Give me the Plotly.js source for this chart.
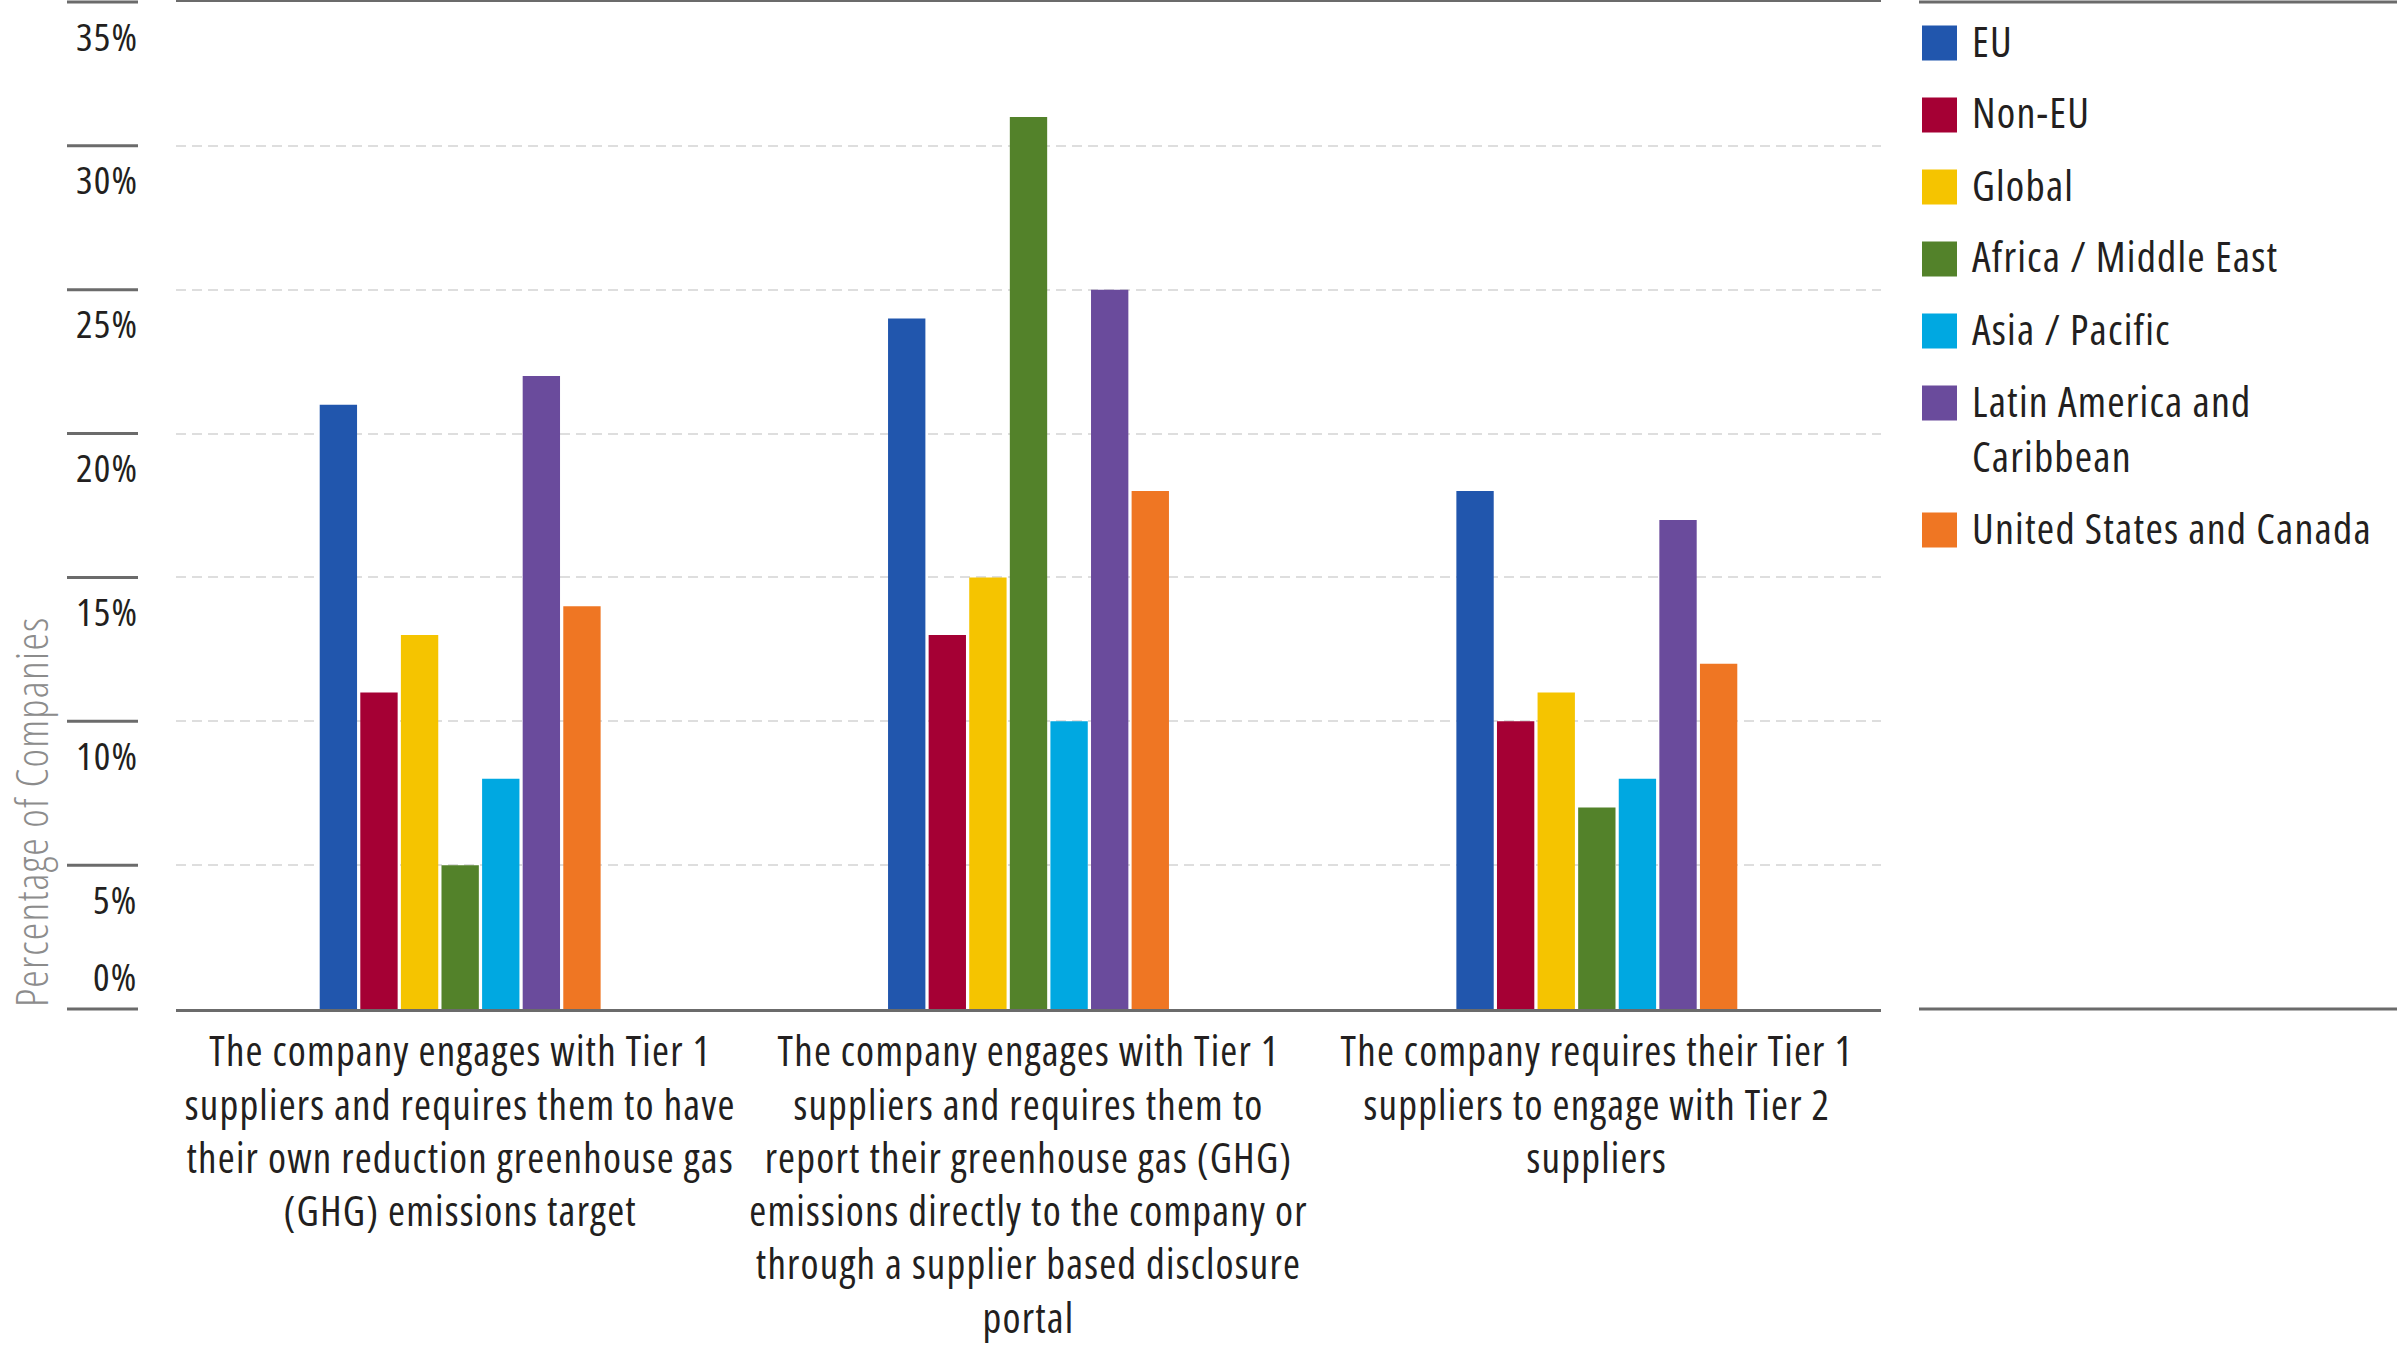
<!DOCTYPE html>
<html>
<head>
<meta charset="utf-8">
<title>Supplier engagement requirements by region</title>
<script src="https://cdn.plot.ly/plotly-3.0.1.min.js"></script>
<style>
  html, body { margin: 0; padding: 0; background: #ffffff; }
  #chart { width: 2397px; height: 1347px; }
  /* condensed cut of Open Sans, opened up a little; global so Plotly's text tester measures the same */
  svg text { font-stretch: 80%; letter-spacing: 1.2px; }
</style>
</head>
<body>
<div id="chart"></div>
<script>
// Engagement requirement (one group of bars each)
var categories = [
  "The company engages with Tier 1<br>suppliers and requires them to have<br>their own reduction greenhouse gas<br>(GHG) emissions target",
  "The company engages with Tier 1<br>suppliers and requires them to<br>report their greenhouse gas (GHG)<br>emissions directly to the company or<br>through a supplier based disclosure<br>portal",
  "The company requires their Tier 1<br>suppliers to engage with Tier 2<br>suppliers"
];

// Regions, in legend order
var regions = [
  "EU",
  "Non-EU",
  "Global",
  "Africa / Middle East",
  "Asia / Pacific",
  "Latin America and<br>Caribbean",
  "United States and Canada"
];

// Percentage of companies, one value per category
var euValues = [21, 24, 18];
var nonEuValues = [11, 13, 10];
var globalValues = [13, 15, 11];
var africaMiddleEastValues = [5, 31, 7];
var asiaPacificValues = [8, 10, 8];
var latinAmericaValues = [22, 25, 17];
var usCanadaValues = [14, 18, 12];

var yTickValues = [0, 5, 10, 15, 20, 25, 30, 35];
var yTickLabels = ["0%", "5%", "10%", "15%", "20%", "25%", "30%", "35%"];

(function () {
  "use strict";

  var W = 2397;
  var H = 1347;
  var PLOT_LEFT = 176;
  var PLOT_RIGHT = 1881;
  var PLOT_TOP = 2;
  var PLOT_BOTTOM = 1009;
  var Y_MAX = 35;

  var FONT = '"Open Sans", "Roboto", sans-serif';
  var TEXT_COLOR = "#231f20";
  var RULE_COLOR = "#6b6b6b";

  var REGION_COLORS = ["#2156ad", "#a50034", "#f5c400", "#53822a", "#00a8e1", "#6a4b9c", "#ef7623"];

  var seriesValues = [
    euValues, nonEuValues, globalValues, africaMiddleEastValues,
    asiaPacificValues, latinAmericaValues, usCanadaValues
  ];

  // pixel -> paper helpers (paper space = plot area)
  function paperX(px) { return (px - PLOT_LEFT) / (PLOT_RIGHT - PLOT_LEFT); }
  function paperY(py) { return (PLOT_BOTTOM - py) / (PLOT_BOTTOM - PLOT_TOP); }

  var traces = regions.map(function (name, i) {
    return {
      type: "bar",
      name: name.replace("<br>", " "),
      x: categories,
      y: seriesValues[i],
      marker: { color: REGION_COLORS[i] },
      showlegend: false,
      hovertemplate: "%{y}%<extra>" + name.replace("<br>", " ") + "</extra>"
    };
  });

  var shapes = [];
  var annotations = [];

  // short rules + labels left of the plot (labels sit under their rule)
  yTickValues.forEach(function (v, i) {
    shapes.push({
      type: "line", xref: "paper", yref: "paper",
      x0: paperX(67), x1: paperX(138), y0: v / Y_MAX, y1: v / Y_MAX,
      line: { color: RULE_COLOR, width: 3 }
    });
    annotations.push({
      xref: "paper", yref: "paper",
      x: paperX(140), y: v / Y_MAX,
      xanchor: "right", yanchor: "middle",
      yshift: v === 0 ? 34 : -33,
      text: yTickLabels[i], showarrow: false,
      font: { family: FONT, size: 39, color: TEXT_COLOR }
    });
  });

  annotations.push({
    xref: "paper", yref: "paper",
    x: paperX(31), y: 0,
    xanchor: "center", yanchor: "bottom",
    textangle: -90,
    text: "Percentage of Companies", showarrow: false,
    font: { family: FONT, size: 44, weight: 300, color: "#8c8c8c" }
  });

  // legend drawn by hand so the swatches can be large
  shapes.push(
    { type: "line", xref: "paper", yref: "paper", x0: paperX(1919), x1: paperX(W), y0: 1, y1: 1,
      line: { color: RULE_COLOR, width: 3 } },
    { type: "line", xref: "paper", yref: "paper", x0: paperX(1919), x1: paperX(W), y0: 0, y1: 0,
      line: { color: RULE_COLOR, width: 3 } }
  );

  var ITEM_STEP = 72;
  var LINE_STEP = 55;
  var firstLine = 43;
  regions.forEach(function (name, i) {
    var lines = name.split("<br>").length;
    shapes.push({
      type: "rect", xref: "paper", yref: "paper",
      x0: paperX(1922), x1: paperX(1957),
      y0: paperY(firstLine - 17.5), y1: paperY(firstLine + 17.5),
      fillcolor: REGION_COLORS[i], line: { width: 0 }
    });
    annotations.push({
      xref: "paper", yref: "paper",
      x: paperX(1970), y: paperY(firstLine + (lines - 1) * LINE_STEP / 2),
      xanchor: "left", yanchor: "middle", align: "left",
      yshift: 3,
      text: name, showarrow: false,
      font: { family: FONT, size: 42, color: TEXT_COLOR }
    });
    firstLine += ITEM_STEP + (lines - 1) * LINE_STEP;
  });

  var layout = {
    width: W,
    height: H,
    margin: { l: PLOT_LEFT, r: W - PLOT_RIGHT, t: PLOT_TOP, b: H - PLOT_BOTTOM, pad: 0 },
    paper_bgcolor: "#ffffff",
    plot_bgcolor: "#ffffff",
    font: { family: FONT, color: TEXT_COLOR },
    barmode: "group",
    bargap: 0.5,
    bargroupgap: 0.08,
    showlegend: false,
    xaxis: {
      type: "category",
      range: [-0.5, 2.5],
      showline: true,
      mirror: true,
      linecolor: RULE_COLOR,
      linewidth: 3,
      showgrid: false,
      ticks: "",
      tickangle: 0,
      ticklabelstandoff: 5,
      tickfont: { family: FONT, size: 41, color: TEXT_COLOR },
      fixedrange: true
    },
    yaxis: {
      range: [0, Y_MAX],
      tickvals: yTickValues,
      showticklabels: false,
      ticks: "",
      showline: false,
      zeroline: false,
      showgrid: true,
      gridcolor: "#dedede",
      gridwidth: 2,
      griddash: "10px,6px",
      fixedrange: true
    },
    shapes: shapes,
    annotations: annotations
  };

  Plotly.newPlot("chart", traces, layout, { displayModeBar: false, responsive: false });
}());
</script>
</body>
</html>
